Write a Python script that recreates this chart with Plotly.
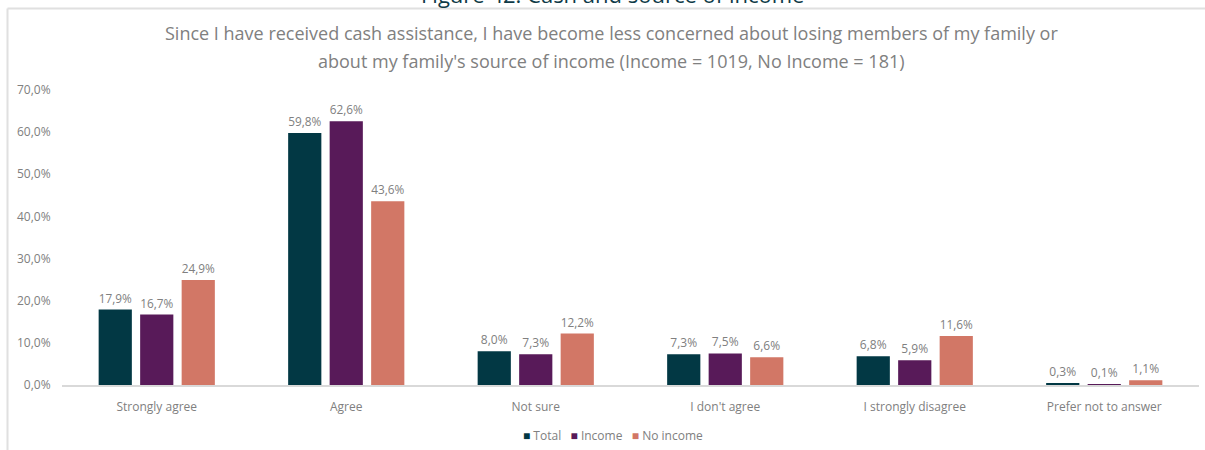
import plotly.graph_objects as go

categories = ["Strongly agree", "Agree", "Not sure", "I don't agree", "I strongly disagree", "Prefer not to answer"]
total = [17.9, 59.8, 8.0, 7.3, 6.8, 0.3]
income = [16.7, 62.6, 7.3, 7.5, 5.9, 0.1]
no_income = [24.9, 43.6, 12.2, 6.6, 11.6, 1.1]
series_names = ["Total", "Income", "No income"]
colors = ["#023844", "#581a59", "#d27766"]

FONT = "Open Sans"
GREY = "#808080"

fig = go.Figure()
for name, vals, col in zip(series_names, [total, income, no_income], colors):
    fig.add_trace(go.Bar(
        x=categories, y=vals, name=name,
        marker=dict(color=col, line=dict(width=0)),
        texttemplate="%{y:.1f}%", textposition="outside",
        textfont=dict(family=FONT, size=12, color=GREY),
        cliponaxis=False, showlegend=False,
    ))

L, R, T, B = 62, 6, 90, 65
W, H = 1205, 450
pw, ph = W - L - R, H - T - B

def px(x):
    return (x - L) / pw

def py(y):
    return (H - B - y) / ph

legend_text = "   ".join(
    f"<span style='color:{c}'>■</span> {n}" for n, c in zip(series_names, colors)
)

fig.update_layout(
    width=W, height=H,
    margin=dict(l=L, r=R, t=T, b=B, autoexpand=False),
    paper_bgcolor="white", plot_bgcolor="white",
    barmode="group", bargap=0.343, bargroupgap=0.2,
    separators=",.",
    font=dict(family=FONT, size=12, color=GREY),
    showlegend=False,
    xaxis=dict(showline=True, linecolor="#d9d9d9", linewidth=1.5, showgrid=False,
               ticks="outside", ticklen=10, tickcolor="rgba(0,0,0,0)",
               tickfont=dict(family=FONT, size=12, color=GREY)),
    yaxis=dict(range=[0, 70], dtick=10, tickformat=".1f", ticksuffix="%",
               showgrid=False, zeroline=False, showline=False,
               ticks="outside", ticklen=8, tickcolor="rgba(0,0,0,0)",
               tickfont=dict(family=FONT, size=12, color=GREY)),
    shapes=[
        dict(type="line", xref="paper", yref="paper", x0=px(7.5), x1=px(1205), y0=py(8.5), y1=py(8.5),
             line=dict(color="#e0e0e0", width=2)),
        dict(type="line", xref="paper", yref="paper", x0=px(7.5), x1=px(7.5), y0=py(8.5), y1=py(450),
             line=dict(color="#e0e0e0", width=2)),
    ],
    annotations=[
        dict(text="Figure 42: Cash and source of income", xref="paper", yref="paper",
             x=px(612), y=py(11), xanchor="center", yanchor="bottom", showarrow=False,
             font=dict(family=FONT, size=22, color="#0e3a47")),
        dict(text="Since I have received cash assistance, I have become less concerned about losing members of my family or",
             xref="paper", yref="paper", x=px(611), y=py(33), xanchor="center", yanchor="middle",
             showarrow=False, font=dict(family=FONT, size=18, color=GREY)),
        dict(text="about my family's source of income (Income = 1019, No Income = 181)",
             xref="paper", yref="paper", x=px(611), y=py(61), xanchor="center", yanchor="middle",
             showarrow=False, font=dict(family=FONT, size=18, color=GREY)),
        dict(text=legend_text, xref="paper", yref="paper", x=px(613), y=py(435),
             xanchor="center", yanchor="middle", showarrow=False,
             font=dict(family=FONT, size=12, color=GREY)),
    ],
)

fig.write_html("out.html")
